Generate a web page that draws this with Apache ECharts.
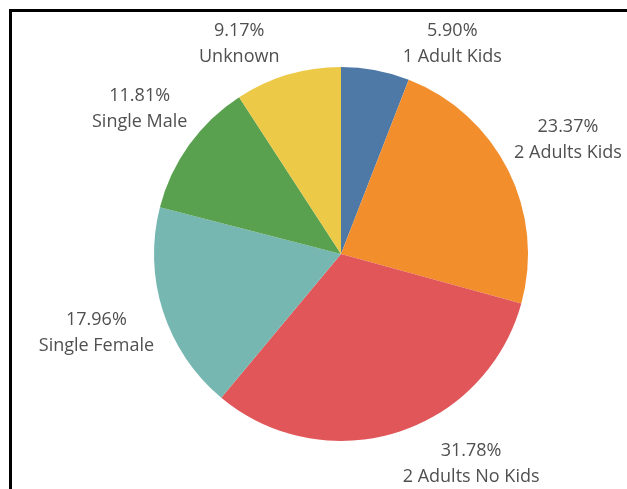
<!DOCTYPE html>
<html>
<head>
<meta charset="utf-8">
<title>Household composition</title>
<script src="https://cdn.jsdelivr.net/npm/echarts@6/dist/echarts.min.js"></script>
<style>
  html, body { margin: 0; padding: 0; background: #ffffff; overflow: hidden; }
  #chart { width: 627px; height: 489px; }
</style>
</head>
<body>
<div id="chart"></div>
<script>
// Household types and their share of all households (%)
const categories = ['1 Adult Kids', '2 Adults Kids', '2 Adults No Kids', 'Single Female', 'Single Male', 'Unknown'];
const shares = [5.90, 23.37, 31.78, 17.96, 11.81, 9.17];
const sliceColors = ['#4e79a7', '#f28e2b', '#e15759', '#76b7b2', '#59a14f', '#edc948'];

// Layout settings
const PIE_CENTER = [341, 254];
const PIE_RADIUS = 187;
const LABEL_GAP = 7;      // clearance between a label box and the pie edge
const LABEL_TOP = 18;     // labels are kept inside this vertical band
const LABEL_BOTTOM = 490;

const chart = echarts.init(document.getElementById('chart'), null, { renderer: 'canvas' });

// Distance from the pie centre to the nearest point of a box centred on (x, y)
function nearestDistance(x, y, w, h, cx, cy) {
  const nx = Math.max(x - w / 2, Math.min(cx, x + w / 2));
  const ny = Math.max(y - h / 2, Math.min(cy, y + h / 2));
  return Math.hypot(nx - cx, ny - cy);
}

// Sector geometry as laid out by the pie series
function sectorGeometry(idx) {
  try {
    const lay = chart.getModel().getSeriesByIndex(0).getData().getItemLayout(idx);
    if (lay) return lay;
  } catch (e) { /* fall back below */ }
  const total = shares.reduce((a, b) => a + b, 0);
  let acc = 0;
  for (let i = 0; i < idx; i++) acc += shares[i];
  const start = -Math.PI / 2 + acc / total * Math.PI * 2;
  return { cx: PIE_CENTER[0], cy: PIE_CENTER[1], r: PIE_RADIUS,
           startAngle: start, endAngle: start + shares[idx] / total * Math.PI * 2 };
}

// Centre each two-line label just outside its slice, along the slice's mid-angle,
// keeping it within the vertical band and sliding it sideways if it was pulled in.
function placeLabel(params) {
  const g = sectorGeometry(params.dataIndex);
  const mid = (g.startAngle + g.endAngle) / 2;
  const ux = Math.cos(mid), uy = Math.sin(mid);
  const w = params.labelRect.width, h = params.labelRect.height;
  const need = g.r + LABEL_GAP;
  let x = g.cx, y = g.cy;
  for (let t = g.r; t < g.r + 400; t += 0.5) {
    x = g.cx + ux * t;
    y = g.cy + uy * t;
    if (nearestDistance(x, y, w, h, g.cx, g.cy) >= need) break;
  }
  const yc = Math.min(Math.max(y, LABEL_TOP + h / 2), LABEL_BOTTOM - h / 2);
  if (yc !== y) {
    y = yc;
    const sx = ux < 0 ? -1 : 1;
    let steps = 0;
    while (nearestDistance(x, y, w, h, g.cx, g.cy) < need && steps < 800) {
      x += sx * 0.5;
      steps++;
    }
  }
  return { x: x, y: y, align: 'center', verticalAlign: 'middle', hideOverlap: false };
}

const seriesData = categories.map((name, i) => ({
  name: name,
  value: shares[i],
  itemStyle: { color: sliceColors[i] }
}));

chart.setOption({
  backgroundColor: '#ffffff',
  animation: false,
  graphic: [{
    type: 'polyline',
    silent: true,
    shape: { points: [[10.5, 489], [10.5, 10.5], [627, 10.5]] },
    style: { stroke: '#000000', lineWidth: 3, fill: null }
  }],
  series: [{
    type: 'pie',
    center: PIE_CENTER,
    radius: PIE_RADIUS,
    startAngle: 90,
    clockwise: true,
    avoidLabelOverlap: false,
    emphasis: { disabled: true },
    itemStyle: { borderWidth: 0 },
    label: {
      show: true,
      position: 'outside',
      formatter: p => p.value.toFixed(2) + '%\n' + p.name,
      fontFamily: '"Open Sans", sans-serif',
      fontSize: 18,
      lineHeight: 26,
      color: '#505050'
    },
    labelLine: { show: false },
    labelLayout: placeLabel,
    data: seriesData
  }]
});
</script>
</body>
</html>
